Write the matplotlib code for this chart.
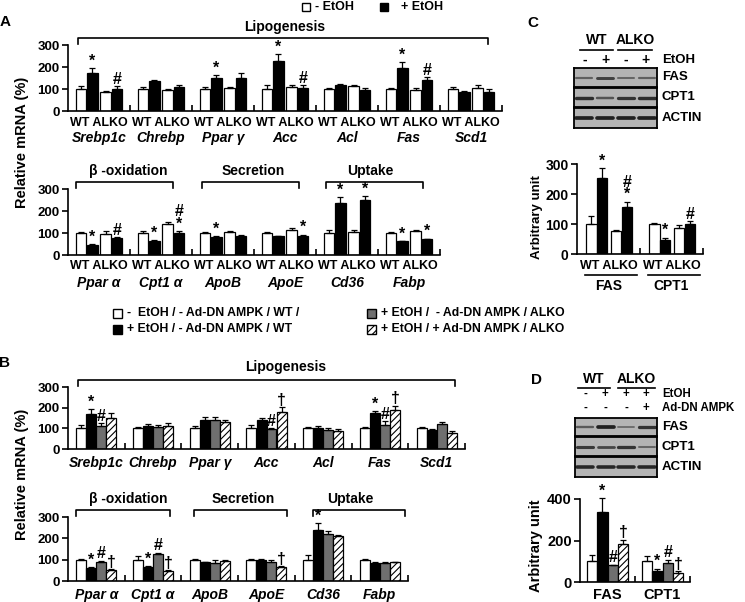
import numpy as np
import matplotlib
matplotlib.use("Agg")
import matplotlib.pyplot as plt
from matplotlib.patches import Rectangle
from matplotlib.lines import Line2D

plt.rcParams['font.family'] = ['Liberation Sans', 'DejaVu Sans']
plt.rcParams['font.weight'] = 'bold'
plt.rcParams['hatch.linewidth'] = 0.8

W, H = 745, 602

# ---------------- data ----------------
# panel A (order in each group: WT -EtOH, WT +EtOH, ALKO -EtOH, ALKO +EtOH)
a_lipo_genes = ['Srebp1c', 'Chrebp', 'Ppar γ', 'Acc', 'Acl', 'Fas', 'Scd1']
a_lipo_mean = [[100, 175, 88, 98], [100, 135, 97, 110], [100, 152, 103, 148], [100, 228, 110, 103],
               [100, 117, 112, 95], [100, 197, 97, 140], [100, 86, 104, 86]]
a_lipo_err = [[15, 20, 5, 15], [10, 4, 5, 10], [8, 10, 6, 25], [18, 30, 8, 15],
              [4, 5, 4, 10], [6, 25, 6, 15], [10, 5, 14, 14]]
a_lipo_sig = [['', '*', '', '#'], ['', '', '', ''], ['', '*', '', ''], ['', '*', '', '#'],
              ['', '', '', ''], ['', '*', '', '#'], ['', '', '', '']]

a_ox_genes = ['Ppar α', 'Cpt1 α', 'ApoB', 'ApoE', 'Cd36', 'Fabp']
a_ox_mean = [[100, 45, 97, 78], [100, 65, 140, 100], [100, 82, 105, 87],
             [100, 85, 113, 85], [100, 235, 105, 252], [100, 62, 108, 72]]
a_ox_err = [[5, 3, 12, 4], [8, 5, 12, 10], [5, 3, 6, 4],
            [4, 3, 12, 8], [12, 30, 10, 15], [5, 3, 6, 3]]
a_ox_sig = [['', '*', '', '#'], ['', '*', '', '#\n*'], ['', '*', '', ''],
            ['', '', '', '*'], ['', '*', '', '*'], ['', '*', '', '*']]

# panel B (order: -EtOH/-DN/WT, +EtOH/-DN/WT, +EtOH/-DN/ALKO, +EtOH/+DN/ALKO)
b_lipo_mean = [[100, 170, 110, 152], [100, 110, 108, 110], [100, 140, 140, 130], [100, 140, 97, 178],
               [100, 100, 90, 85], [100, 175, 115, 190], [100, 90, 120, 78]]
b_lipo_err = [[15, 25, 15, 20], [8, 12, 10, 18], [12, 15, 15, 10], [15, 10, 5, 25],
              [5, 12, 10, 10], [5, 8, 20, 20], [5, 5, 12, 10]]
b_lipo_sig = [['', '*', '#', ''], ['', '', '', ''], ['', '', '', ''], ['', '', '#', '†'],
              ['', '', '', ''], ['', '*', '#', '†'], ['', '', '', '']]

b_ox_mean = [[100, 60, 88, 52], [100, 65, 125, 45], [100, 88, 85, 92],
             [100, 100, 88, 65], [100, 238, 220, 210], [100, 85, 85, 88]]
b_ox_err = [[3, 5, 8, 5], [15, 5, 8, 5], [5, 3, 12, 8],
            [5, 5, 10, 5], [20, 35, 15, 5], [5, 5, 5, 3]]
b_ox_sig = [['', '*', '#', '†'], ['', '*', '#', '†'], ['', '', '', ''],
            ['', '', '', '†'], ['', '*', '', ''], ['', '', '', '']]

# panel C / D western blot quantification
c_proteins = ['FAS', 'CPT1']
c_mean = [[100, 252, 77, 157], [100, 48, 88, 100]]
c_err = [[28, 35, 3, 18], [4, 7, 8, 10]]
c_sig = [['', '*', '', '#\n*'], ['', '*', '', '#']]
c_bands = {'FAS': [0.35, 0.6, 0.3, 0.35], 'CPT1': [0.75, 0.45, 0.7, 0.75], 'ACTIN': [0.85, 0.85, 0.85, 0.85]}

d_mean = [[100, 335, 80, 182], [100, 55, 90, 43]]
d_err = [[32, 70, 3, 22], [25, 10, 18, 8]]
d_sig = [['', '*', '#', '†'], ['', '*', '#', '†']]
d_bands = {'FAS': [0.4, 0.85, 0.25, 0.7], 'CPT1': [0.65, 0.55, 0.7, 0.3], 'ACTIN': [0.8, 0.8, 0.8, 0.8]}

fig = plt.figure(figsize=(W / 100, H / 100), dpi=100)


def px_axes(x0, y0, x1, y1):
    return fig.add_axes([x0 / W, 1 - y1 / H, (x1 - x0) / W, (y1 - y0) / H])


def ftext(x, y, s, **kw):
    fig.text(x / W, 1 - y / H, s, **kw)


def fline(x0, x1, y, lw=1.2):
    fig.add_artist(Line2D([x0 / W, x1 / W], [1 - y / H] * 2, transform=fig.transFigure, color='black', lw=lw))


def fsquare(x, y, s, fc, hatch=None):
    fig.add_artist(Rectangle((x / W, 1 - (y + s) / H), s / W, s / H, transform=fig.transFigure,
                             facecolor=fc, edgecolor='black', lw=1, hatch=hatch))


def bar_panel(ax, mean, err, sig, offsets, width, colors, hatches, ymax, step, fs, sfs):
    n = len(mean)
    for k in range(4):
        x = np.arange(n) + offsets[k]
        m = np.array([row[k] for row in mean])
        e = np.array([row[k] for row in err])
        ax.bar(x, m, width, color=colors[k], edgecolor='black', linewidth=0.9, hatch=hatches[k], zorder=2)
        ax.errorbar(x, m, yerr=[np.zeros(n), e], fmt='none', ecolor='black', elinewidth=0.9,
                    capsize=2.0, capthick=0.9, zorder=3, clip_on=False)
        for i in range(n):
            if sig[i][k]:
                ax.annotate(sig[i][k], (x[i], m[i] + e[i]), xytext=(0, -0.5), textcoords='offset points',
                            ha='center', va='bottom', fontsize=sfs, linespacing=0.8, annotation_clip=False)
    ax.set_xlim(-0.5, n - 0.5)
    ax.set_ylim(0, ymax)
    for s in ['top', 'right']:
        ax.spines[s].set_visible(False)
    for s in ['left', 'bottom']:
        ax.spines[s].set_linewidth(1.2)
    ax.set_yticks(np.arange(0, ymax + 1, step))
    ax.set_xticks(np.arange(n) + 0.5)
    ax.tick_params(axis='x', direction='in', length=4, width=1.2, labelbottom=False)
    ax.tick_params(axis='y', direction='out', length=4, width=1.2, labelsize=fs, pad=2)
    ax.patch.set_alpha(0)


def group_labels(ax, hpx, labels, dpx, fs, italic=True):
    for i, lab in enumerate(labels):
        ax.text(i, -dpx / hpx, lab, transform=ax.get_xaxis_transform(), ha='center', va='center',
                fontsize=fs, style='italic' if italic else 'normal')


def bracket(ax, hpx, x0, x1, label, lx, ypx=7, lpx=18, fs=10):
    tr = ax.get_xaxis_transform()
    yb = 1 + ypx / hpx
    tip = 6 / hpx
    ax.plot([x0, x0, x1, x1], [yb - tip, yb, yb, yb - tip], color='black', lw=1.2, transform=tr, clip_on=False)
    ax.text(lx, 1 + lpx / hpx, label, transform=tr, ha='center', va='center', fontsize=fs, clip_on=False)


def blot(x0, y0, x1, y1, bands):
    ax = px_axes(x0, y0, x1, y1)
    ax.set_facecolor('#b4b4b4')
    ax.set_xlim(-0.5, len(bands) - 0.5)
    ax.set_ylim(0, 1)
    ax.set_xticks([])
    ax.set_yticks([])
    for s in ax.spines.values():
        s.set_linewidth(1.3)
    for j, v in enumerate(bands):
        ax.plot([j - 0.38, j + 0.38], [0.5, 0.5], color=str(0.55 - 0.5 * v), lw=0.8 + 2.2 * v,
                solid_capstyle='round')


ab_colors = ['white', 'black', 'white', 'black']
ab_hatch = [None, None, None, None]
bd_colors = ['white', 'black', '#6f6f6f', 'white']
bd_hatch = [None, None, None, '/////']
offA = [-0.29, -0.11, 0.11, 0.29]
offB = [-0.265, -0.088, 0.088, 0.265]

# ---------------- panel A ----------------
ax = px_axes(68, 45, 502, 111)
bar_panel(ax, a_lipo_mean, a_lipo_err, a_lipo_sig, offA, 0.175, ab_colors, ab_hatch, 300, 100, 9.5, 11.5)
group_labels(ax, 66, ['WT ALKO'] * 7, 12, 9, italic=False)
group_labels(ax, 66, a_lipo_genes, 27, 10)
bracket(ax, 66, -0.34, 6.27, 'Lipogenesis', 3.0)

ax = px_axes(68, 189, 440, 255)
bar_panel(ax, a_ox_mean, a_ox_err, a_ox_sig, offA, 0.175, ab_colors, ab_hatch, 300, 100, 9.5, 11.5)
group_labels(ax, 66, ['WT ALKO'] * 6, 11, 9, italic=False)
group_labels(ax, 66, a_ox_genes, 28, 10)
bracket(ax, 66, -0.37, 1.19, 'β -oxidation', 0.47)
bracket(ax, 66, 1.66, 3.23, 'Secretion', 2.48)
bracket(ax, 66, 3.66, 5.23, 'Uptake', 4.37)

ftext(22, 142, 'Relative mRNA (%)', rotation=90, ha='center', va='center', fontsize=10.5)
ftext(5, 22, 'A', ha='center', va='center', fontsize=11)
fsquare(302, 3, 8, 'white')
ftext(315, 7, '- EtOH', ha='left', va='center', fontsize=9)
fsquare(380, 3, 8, 'black')
ftext(401, 7, '+ EtOH', ha='left', va='center', fontsize=9)

# ---------------- panel B ----------------
fsquare(113, 309, 9, 'white')
ftext(127, 313, '-  EtOH / - Ad-DN AMPK / WT /', ha='left', va='center', fontsize=8.8)
fsquare(113, 325, 9, 'black')
ftext(127, 329, '+ EtOH / - Ad-DN AMPK / WT', ha='left', va='center', fontsize=8.8)
fsquare(367, 309, 9, '#6f6f6f')
ftext(381, 313, '+ EtOH /  - Ad-DN AMPK / ALKO', ha='left', va='center', fontsize=8.8)
fsquare(367, 325, 9, 'white', hatch='/////')
ftext(381, 329, '+ EtOH / + Ad-DN AMPK / ALKO', ha='left', va='center', fontsize=8.8)
ftext(5, 363, 'B', ha='center', va='center', fontsize=11)

ax = px_axes(68, 387, 465, 449)
bar_panel(ax, b_lipo_mean, b_lipo_err, b_lipo_sig, offB, 0.176, bd_colors, bd_hatch, 300, 100, 9.5, 11.5)
group_labels(ax, 62, a_lipo_genes, 14, 10)
bracket(ax, 62, -0.32, 6.33, 'Lipogenesis', 3.33, lpx=20)

ax = px_axes(68, 517, 408, 581)
bar_panel(ax, b_ox_mean, b_ox_err, b_ox_sig, offB, 0.176, bd_colors, bd_hatch, 300, 100, 9.5, 11.5)
group_labels(ax, 64, a_ox_genes, 14, 10)
bracket(ax, 64, -0.36, 1.30, 'β -oxidation', 0.56)
bracket(ax, 64, 1.72, 3.36, 'Secretion', 2.6)
bracket(ax, 64, 3.82, 5.44, 'Uptake', 4.49)
ftext(22, 474, 'Relative mRNA (%)', rotation=90, ha='center', va='center', fontsize=10.5)

# ---------------- panel C ----------------
ftext(533, 23, 'C', ha='center', va='center', fontsize=11)
ftext(597, 40, 'WT', ha='center', va='center', fontsize=10)
ftext(635, 40, 'ALKO', ha='center', va='center', fontsize=10)
fline(580, 613, 50)
fline(618, 652, 50)
for xs, sgn in zip([585, 605, 626, 646], ['-', '+', '-', '+']):
    ftext(xs, 60, sgn, ha='center', va='center', fontsize=10)
ftext(662, 60, 'EtOH', ha='left', va='center', fontsize=9.5)
for (y0, y1), name in zip([(68, 87), (88, 107), (108, 128)], ['FAS', 'CPT1', 'ACTIN']):
    blot(574, y0, 657, y1, c_bands[name])
    ftext(662, (y0 + y1) / 2, name, ha='left', va='center', fontsize=9.5)

ax = px_axes(577, 164, 703, 254)
bar_panel(ax, c_mean, c_err, c_sig, [-0.27, -0.1, 0.12, 0.29], 0.165, ab_colors, ab_hatch, 300, 100, 10, 11.5)
group_labels(ax, 90, ['WT ALKO'] * 2, 12, 9, italic=False)
group_labels(ax, 90, c_proteins, 32, 10, italic=False)
for g in range(2):
    ax.plot([g - 0.37, g + 0.46], [-21 / 90] * 2, color='black', lw=1.2,
            transform=ax.get_xaxis_transform(), clip_on=False)
ftext(537, 217, 'Arbitrary unit', rotation=90, ha='center', va='center', fontsize=9.5)

# ---------------- panel D ----------------
ftext(537, 380, 'D', ha='center', va='center', fontsize=11)
ftext(594, 379, 'WT', ha='center', va='center', fontsize=10)
ftext(636, 379, 'ALKO', ha='center', va='center', fontsize=10)
fline(578, 610, 388)
fline(618, 655, 388)
for xs, s1, s2 in zip([585, 605, 626, 646], ['-', '+', '+', '+'], ['-', '-', '-', '+']):
    ftext(xs, 394, s1, ha='center', va='center', fontsize=8.3)
    ftext(xs, 408, s2, ha='center', va='center', fontsize=8.3)
ftext(662, 394, 'EtOH', ha='left', va='center', fontsize=8.3)
ftext(662, 408, 'Ad-DN AMPK', ha='left', va='center', fontsize=8.3)
for (y0, y1), name in zip([(418, 436), (437, 456), (457, 477)], ['FAS', 'CPT1', 'ACTIN']):
    blot(575, y0, 657, y1, d_bands[name])
    ftext(662, (y0 + y1) / 2, name, ha='left', va='center', fontsize=9.5)

ax = px_axes(580, 499, 690, 582)
bar_panel(ax, d_mean, d_err, d_sig, [-0.285, -0.095, 0.095, 0.285], 0.19, bd_colors, bd_hatch, 400, 200, 10.5, 11.5)
group_labels(ax, 83, c_proteins, 13, 10.5, italic=False)
ftext(536, 546, 'Arbitrary unit', rotation=90, ha='center', va='center', fontsize=10.5)

fig.savefig('out.png', dpi=100)
